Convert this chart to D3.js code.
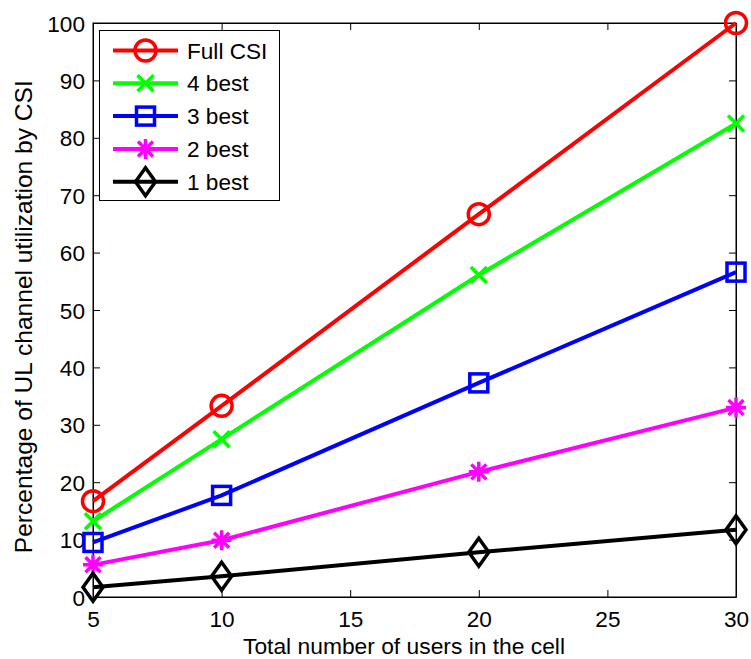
<!DOCTYPE html>
<html><head><meta charset="utf-8">
<script src="https://cdn.jsdelivr.net/npm/d3@7"></script>
<style>body{margin:0;background:#fff;} text{font-family:"Liberation Sans",Arial,sans-serif;}</style>
</head><body>
<svg id="chart" width="751" height="659"></svg>
<script>
const users = [5, 10, 20, 30];
const fullCSI = [16.7, 33.3, 66.7, 100];
const best4 = [13.2, 27.5, 56.1, 82.5];
const best3 = [9.5, 17.7, 37.3, 56.6];
const best2 = [5.6, 9.9, 21.8, 33.0];
const best1 = [1.7, 3.6, 7.8, 11.7];
const seriesNames = ["Full CSI", "4 best", "3 best", "2 best", "1 best"];
const seriesColors = ["#ff0000", "#00ff00", "#0000ff", "#ff00ff", "#000000"];
const seriesMarkers = ["circle", "x", "square", "star", "diamond"];
const xTicks = [5, 10, 15, 20, 25, 30];
const yTicks = [0, 10, 20, 30, 40, 50, 60, 70, 80, 90, 100];
const xLabel = "Total number of users in the cell";
const yLabel = "Percentage of UL channel utilization by CSI";

const allSeries = [fullCSI, best4, best3, best2, best1];
const svg = d3.select("#chart");
const L = 93, R = 736, T = 23, B = 597;
const x = d3.scaleLinear().domain([5, 30]).range([L, R]);
const y = d3.scaleLinear().domain([0, 100]).range([B, T]);

svg.append("rect").attr("x", L).attr("y", T).attr("width", R - L).attr("height", B - T)
  .attr("fill", "none").attr("stroke", "#000").attr("stroke-width", 1);

const fs = 22.6;
const xAxis = svg.append("g").attr("transform", `translate(0,${B})`)
  .call(d3.axisBottom(x).tickValues(xTicks).tickSizeInner(-7).tickSizeOuter(0));
const yAxis = svg.append("g").attr("transform", `translate(${L},0)`)
  .call(d3.axisLeft(y).tickValues(yTicks).tickSizeInner(-7).tickSizeOuter(0).tickPadding(8));
const xTop = svg.append("g").attr("transform", `translate(0,${T})`)
  .call(d3.axisTop(x).tickValues(xTicks).tickSizeInner(-7).tickSizeOuter(0).tickFormat(""));
const yRight = svg.append("g").attr("transform", `translate(${R},0)`)
  .call(d3.axisRight(y).tickValues(yTicks).tickSizeInner(-7).tickSizeOuter(0).tickFormat(""));
[xAxis, yAxis, xTop, yRight].forEach(g => {
  g.select(".domain").attr("stroke", "#000");
  g.selectAll(".tick line").attr("stroke", "#000");
  g.selectAll("text").attr("font-size", fs).attr("fill", "#000")
    .style("font-family", '"Liberation Sans",Arial,sans-serif');
});
xAxis.selectAll("text").attr("y", 30).attr("dy", 0);
yAxis.selectAll("text").attr("dy", "0.36em");

svg.append("text").attr("x", 404).attr("y", 654).attr("text-anchor", "middle")
  .attr("font-size", fs).attr("textLength", 322).attr("lengthAdjust", "spacingAndGlyphs")
  .text(xLabel);
svg.append("text").attr("transform", `translate(32,316.7) rotate(-90)`)
  .attr("text-anchor", "middle").attr("font-size", 23.2)
  .attr("textLength", 473).attr("lengthAdjust", "spacingAndGlyphs").text(yLabel);

function drawMarker(g, type, cx, cy, color) {
  const sw = 3.5;
  if (type === "circle") {
    g.append("circle").attr("cx", cx).attr("cy", cy).attr("r", 10.5)
      .attr("fill", "none").attr("stroke", color).attr("stroke-width", sw);
  } else if (type === "square") {
    g.append("rect").attr("x", cx - 9).attr("y", cy - 9).attr("width", 18).attr("height", 18)
      .attr("fill", "none").attr("stroke", color).attr("stroke-width", sw);
  } else if (type === "x") {
    const s = 8;
    g.append("path").attr("d", `M${cx - s},${cy - s}L${cx + s},${cy + s}M${cx - s},${cy + s}L${cx + s},${cy - s}`)
      .attr("stroke", color).attr("stroke-width", sw).attr("fill", "none");
  } else if (type === "star") {
    const s = 10, d = 7.5;
    g.append("path").attr("d", `M${cx},${cy - s}L${cx},${cy + s}M${cx - s},${cy}L${cx + s},${cy}M${cx - d},${cy - d}L${cx + d},${cy + d}M${cx - d},${cy + d}L${cx + d},${cy - d}`)
      .attr("stroke", color).attr("stroke-width", sw).attr("fill", "none");
  } else if (type === "diamond") {
    const w = 10, h = 14;
    g.append("path").attr("d", `M${cx},${cy - h}L${cx + w},${cy}L${cx},${cy + h}L${cx - w},${cy}Z`)
      .attr("stroke", color).attr("stroke-width", sw).attr("fill", "none");
  }
}

const line = d3.line().x((d, i) => x(users[i])).y(d => y(d));
allSeries.forEach((vals, si) => {
  const g = svg.append("g");
  g.append("path").datum(vals).attr("d", line).attr("fill", "none")
    .attr("stroke", seriesColors[si]).attr("stroke-width", 4);
  vals.forEach((v, i) => drawMarker(g, seriesMarkers[si], x(users[i]), y(v), seriesColors[si]));
});

const lg = svg.append("g");
lg.append("rect").attr("x", 99.5).attr("y", 30.5).attr("width", 180).attr("height", 170)
  .attr("fill", "#fff").attr("stroke", "#000").attr("stroke-width", 1);
seriesNames.forEach((name, i) => {
  const cy = 50.5 + i * 32.8;
  lg.append("line").attr("x1", 113).attr("x2", 178).attr("y1", cy).attr("y2", cy)
    .attr("stroke", seriesColors[i]).attr("stroke-width", 4);
  drawMarker(lg, seriesMarkers[i], 145.5, cy, seriesColors[i]);
  lg.append("text").attr("x", 187).attr("y", cy).attr("dy", "0.36em")
    .attr("font-size", fs).text(name);
});
</script>
</body></html>
